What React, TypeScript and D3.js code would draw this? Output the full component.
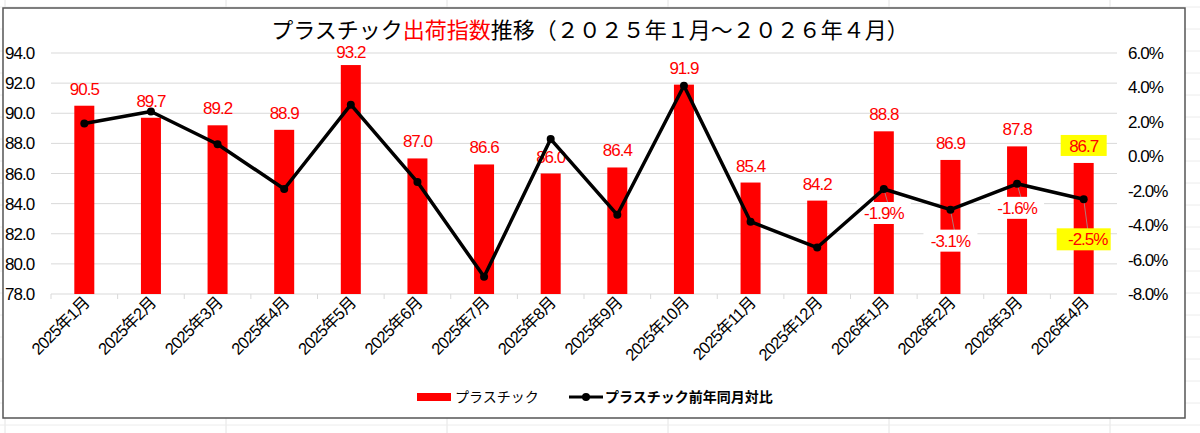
import React from "react";
import * as d3 from "d3";

const months = ["2025年1月","2025年2月","2025年3月","2025年4月","2025年5月","2025年6月","2025年7月","2025年8月","2025年9月","2025年10月","2025年11月","2025年12月","2026年1月","2026年2月","2026年3月","2026年4月"];
const index = [90.5, 89.7, 89.2, 88.9, 93.2, 87.0, 86.6, 86.0, 86.4, 91.9, 85.4, 84.2, 88.8, 86.9, 87.8, 86.7];
const yoy = [1.9, 2.6, 0.7, -1.9, 3.0, -1.5, -7.0, 1.0, -3.4, 4.1, -3.8, -5.3, -1.9, -3.1, -1.6, -2.5];
const leftTicks = [78, 80, 82, 84, 86, 88, 90, 92, 94];
const rightTicks = [-8, -6, -4, -2, 0, 2, 4, 6];
const labeledYoy = [12, 13, 14, 15];

const W = 1200, H = 433;
const font = "Arial, 'Liberation Sans', 'Noto Sans CJK JP', sans-serif";

export default function App() {
  const x = d3.scaleBand<string>().domain(months).range([51, 1117]).paddingInner(0.7).paddingOuter(0.35);
  const y = d3.scaleLinear().domain([78, 94]).range([294, 53]);
  const y2 = d3.scaleLinear().domain([-8, 6]).range([294, 53]);
  const cx = (m: string) => (x(m) ?? 0) + x.bandwidth() / 2;
  const line = d3.line<number>().x((_, i) => cx(months[i])).y((d) => y2(d));
  const bw = 20;
  return (
    <svg width={W} height={H} style={{ position: "absolute", left: 0, top: 0, background: "#fff" }} fontFamily={font}>
      {d3.range(0, W, 221).map((v) => <line key={"gx" + v} x1={v + 5} x2={v + 5} y1={0} y2={H} stroke="#e4e4e4" />)}
      {d3.range(7, H, 22).map((v) => <line key={"gy" + v} x1={0} x2={W} y1={v} y2={v} stroke="#ececec" />)}
      <rect x={3} y={8} width={1182} height={410} fill="#fff" stroke="#555" strokeWidth={1.5} />
      <text x={590} y={38} textAnchor="middle" fontSize={22}>
        <tspan>プラスチック</tspan><tspan fill="#ff0000">出荷指数</tspan><tspan>推移（２０２５年１月～２０２６年４月）</tspan>
      </text>
      {leftTicks.map((t) => (
        <g key={"l" + t}>
          <line x1={51} x2={1117} y1={y(t)} y2={y(t)} stroke="#d9d9d9" />
          <text x={5} y={y(t) + 6} fontSize={17} letterSpacing={-1}>{t.toFixed(1)}</text>
        </g>
      ))}
      {rightTicks.map((t) => (
        <text key={"r" + t} x={1128} y={y2(t) + 6} fontSize={17} letterSpacing={-1}>{t.toFixed(1)}%</text>
      ))}
      {months.map((m, i) => (
        <g key={m}>
          <rect x={cx(m) - bw / 2} y={y(index[i])} width={bw} height={294 - y(index[i])} fill="#ff0000" />
          <line x1={(x(m) ?? 0) - x.step() * 0.35} x2={(x(m) ?? 0) - x.step() * 0.35} y1={294} y2={299} stroke="#d9d9d9" />
          <text transform={`translate(${cx(m) + 6},${304}) rotate(-45)`} textAnchor="end" fontSize={16.5} letterSpacing={-0.8}>{m}</text>
        </g>
      ))}
      {months.map((m, i) => {
        const hl = i === 15;
        return (
          <g key={"v" + m}>
            {hl && <rect x={cx(m) - 23} y={y(index[i]) - 28} width={46} height={21} fill="#ffff00" />}
            <text x={cx(m)} y={y(index[i]) - (i === 4 ? 7 : 11)} textAnchor="middle" fontSize={17} fill="#ff0000" letterSpacing={-1}>{index[i].toFixed(1)}</text>
          </g>
        );
      })}
      {labeledYoy.map((i) => {
        const m = months[i];
        const dy = i === 13 ? 37 : i === 15 ? 46 : 30;
        const ly = y2(yoy[i]) + dy;
        const hl = i === 15;
        return (
          <g key={"p" + i}>
            <line x1={cx(m)} y1={y2(yoy[i])} x2={cx(m) + 4} y2={ly - 16} stroke="#999" strokeWidth={0.8} />
            <rect x={cx(m) - 27} y={ly - 17} width={54} height={22} fill={hl ? "#ffff00" : "#fff"} />
            <text x={cx(m) + (hl ? 4 : 0)} y={ly} textAnchor="middle" fontSize={17} fill="#ff0000" letterSpacing={-1}>{yoy[i].toFixed(1)}%</text>
          </g>
        );
      })}
      <path d={line(yoy) ?? ""} fill="none" stroke="#000" strokeWidth={3.5} strokeLinejoin="round" />
      {yoy.map((d, i) => <circle key={"c" + i} cx={cx(months[i])} cy={y2(d)} r={4} fill="#000" />)}
      <rect x={417} y={393} width={34} height={8} fill="#ff0000" />
      <text x={455} y={402} fontSize={14}>プラスチック</text>
      <line x1={569} x2={603} y1={397} y2={397} stroke="#000" strokeWidth={3} />
      <circle cx={586} cy={397} r={4} fill="#000" />
      <text x={605} y={402} fontSize={14} fontWeight="bold">プラスチック前年同月対比</text>
    </svg>
  );
}
